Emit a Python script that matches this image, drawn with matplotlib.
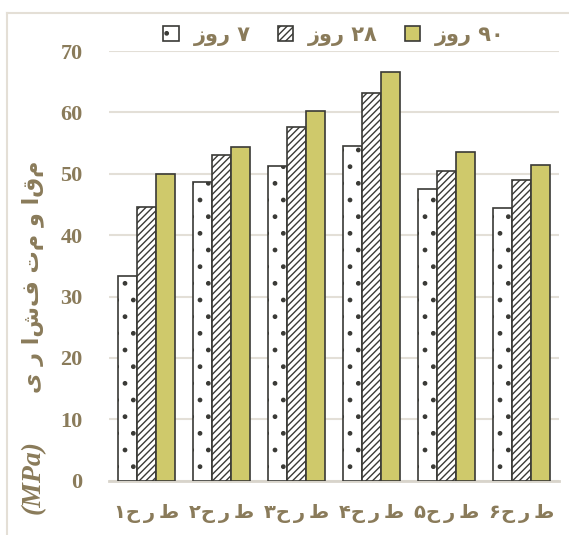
import matplotlib
matplotlib.use("Agg")
import matplotlib.pyplot as plt
import numpy as np
from matplotlib.patches import Patch
from matplotlib.lines import Line2D

categories = ["۱ح\u2009ر\u2009ط", "۲ح\u2009ر\u2009ط", "۳ح\u2009ر\u2009ط",
              "۴ح\u2009ر\u2009ط", "۵ح\u2009ر\u2009ط", "۶ح\u2009ر\u2009ط"]
series_labels = ["زور ۷", "زور ۲۸", "زور ۹۰"]
day7 = [33.4, 48.6, 51.3, 54.5, 47.6, 44.5]
day28 = [44.6, 53.1, 57.6, 63.2, 50.5, 49.0]
day90 = [49.9, 54.3, 60.3, 66.5, 53.5, 51.5]
yticks = [0, 10, 20, 30, 40, 50, 60, 70]
ylabel_ar = "ی ر اشف تم و اقم"
ylabel_unit = "(MPa)"

TXT = "#8A7B5A"
EDGE = "#3a3a36"
YEL = "#CFC96B"
GRID = "#E3DFD7"

plt.rcParams['hatch.linewidth'] = 1.0
plt.rcParams['hatch.color'] = EDGE

fig = plt.figure(figsize=(5.69, 5.35), dpi=100)
ax = fig.add_axes([109/569, 1-480.7/535, 450/569, (480.7-51)/535])

x = np.arange(len(categories))
w = 0.253
styles = [dict(facecolor="white", hatch="."),
          dict(facecolor="white", hatch="/////"),
          dict(facecolor=YEL, hatch=None)]
for i, vals in enumerate([day7, day28, day90]):
    ax.bar(x + (i-1)*w, vals, width=w, edgecolor=EDGE, linewidth=1.2,
           label=series_labels[i], zorder=3, **styles[i])

ax.set_xlim(-0.5, len(categories)-0.5)
ax.set_ylim(0, 70)
ax.set_yticks(yticks)
ax.set_yticklabels([str(v) for v in yticks], fontfamily="Liberation Serif",
                   fontweight="bold", fontsize=16, color=TXT)
ax.set_xticks(x)
ax.set_xticklabels(categories, fontfamily="DejaVu Sans", fontweight="bold",
                   fontsize=14, color=TXT)
ax.tick_params(axis="y", length=0, pad=19)
ax.tick_params(axis="x", length=0, pad=17)
for s in ["top", "right", "left"]:
    ax.spines[s].set_visible(False)
ax.spines["bottom"].set_color("#D8D4CB")
ax.spines["bottom"].set_linewidth(2)
ax.grid(axis="y", color=GRID, linewidth=1.5, zorder=0)
ax.set_axisbelow(True)

fig.text(33/569, 1-(160+393)/2/535, ylabel_ar, rotation=90, ha="center", va="center",
         fontfamily="DejaVu Sans", fontweight="bold", fontsize=16, color=TXT)
fig.text(33/569, 1-477/535, ylabel_unit, rotation=90, ha="center", va="center",
         fontfamily="Liberation Serif", fontweight="bold", fontstyle="italic",
         fontsize=20, color=TXT)

handles = [Patch(facecolor="white", edgecolor=EDGE, hatch=".", linewidth=1.2),
           Patch(facecolor="white", edgecolor=EDGE, hatch="/////", linewidth=1.2),
           Patch(facecolor=YEL, edgecolor=EDGE, linewidth=1.2)]
leg = fig.legend(handles, series_labels, loc="center", bbox_to_anchor=(334/569, 1-35/535),
                 ncol=3, frameon=False, handlelength=0.75, handleheight=0.75,
                 handletextpad=0.7, columnspacing=1.3,
                 prop=dict(family="DejaVu Sans", weight="bold", size=15))
for t in leg.get_texts():
    t.set_color(TXT)

# chart border
fig.add_artist(Line2D([6.5/569, 6.5/569], [0, 1-13/535], transform=fig.transFigure,
                      color="#E4DFD6", linewidth=1.5))
fig.add_artist(Line2D([6.5/569, 1], [1-13/535, 1-13/535], transform=fig.transFigure,
                      color="#E4DFD6", linewidth=1.5))

fig.savefig("out.png", dpi=100)
